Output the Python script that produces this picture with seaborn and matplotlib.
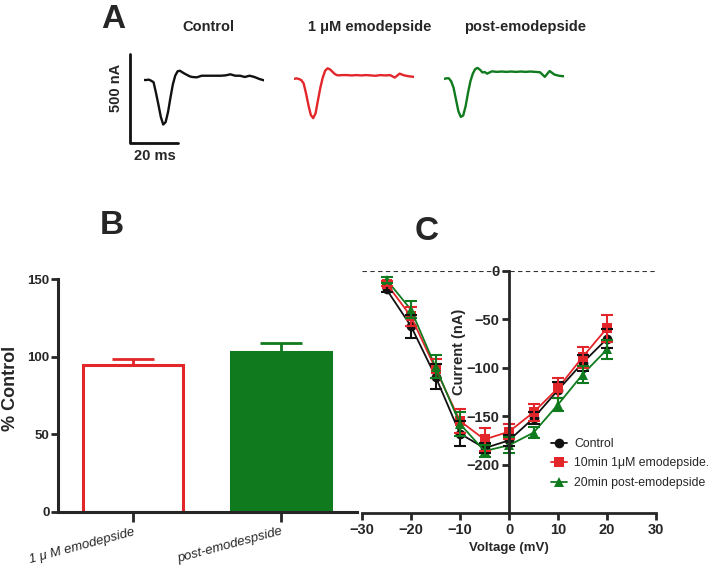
import numpy as np
import pandas as pd
import matplotlib
matplotlib.use("Agg")
import matplotlib.pyplot as plt
import seaborn as sns

# ---------------- data ----------------
# Panel A: example current traces (ms, nA relative to baseline)
trace_time = [0, 1, 2, 3, 4, 5, 6, 7, 8, 9, 10, 11, 12, 13, 14, 15, 16, 17, 18, 19, 20,
              22, 24, 26, 28, 30, 32, 34, 36, 38, 40, 42, 44, 46, 48, 50]
trace_control = [0, 0, 2, -4, -13, -73, -138, -207, -250, -237, -181, -101, -26, 24, 49, 52, 43, 35, 28, 21, 17,
                 15, 24, 24, 24, 24, 24, 26, 32, 24, 24, 17, 24, 17, 6, -2]
trace_emod = [0, 4, 0, -6, -24, -80, -146, -202, -220, -192, -118, -47, 9, 47, 60, 54, 41, 28, 21, 21, 22,
              22, 20, 22, 20, 22, 20, 18, 22, 20, 22, 8, 30, 20, 15, 12]
trace_post = [0, 4, 4, -13, -50, -116, -181, -213, -205, -153, -78, -13, 30, 56, 62, 52, 37, 39, 30, 37, 43,
              40, 42, 40, 42, 40, 42, 40, 42, 40, 38, 12, 45, 25, 18, 15]
trace_titles = ["Control", "1 μM emodepside", "post-emodepside"]

# Panel B
b_labels = ["1 μ M emodepside", "post-emodespside"]
b_values = [94.5, 102.8]
b_sem = [4.0, 6.3]

# Panel C
voltages = [-25, -20, -15, -10, -5, 0, 5, 10, 15, 20]
c_control = [-19, -57, -109, -168, -183, -175, -152, -123, -95, -70]
c_control_sem = [3, 12, 13, 13, 5, 6, 6, 8, 8, 10]
c_emod = [-13, -47, -101, -155, -174, -166, -146, -121, -89, -59]
c_emod_sem = [3, 10, 10, 12, 12, 8, 9, 10, 11, 14]
c_post = [-9, -40, -99, -158, -186, -180, -167, -138, -107, -81]
c_post_sem = [3, 9, 12, 12, 6, 8, 6, 7, 9, 10]
c_labels = ["Control", "10min 1μM emodepside.", "20min post-emodepside"]

BLACK = "#111111"
RED = "#e3262a"
GREEN = "#107a1e"

sns.set_style("ticks")
plt.rcParams["font.family"] = ["Liberation Sans", "DejaVu Sans"]

W, H = 709, 573
fig = plt.figure(figsize=(W / 100, H / 100), dpi=100)


def px_axes(l, t, r, b):
    return fig.add_axes([l / W, 1 - b / H, (r - l) / W, (b - t) / H])


# ---------------- Panel A ----------------
nA_px = 89 / 500.0
ms_px = 2.4
trace_sets = [(trace_control, BLACK, 144, 80), (trace_emod, RED, 294, 79), (trace_post, GREEN, 444, 79)]
a_axes = []
for vals, col, left, base in trace_sets:
    top = base - 200 * nA_px
    bot = base + 400 * nA_px
    ax = px_axes(left, top, left + 50 * ms_px, bot)
    sns.lineplot(x=trace_time, y=vals, color=col, lw=1.7, ax=ax)
    ax.set_xlim(0, 50)
    ax.set_ylim(-400, 200)
    ax.axis("off")
    a_axes.append(ax)

# scale bar (500 nA, 20 ms) in the control axes
axc = a_axes[0]
x0 = (130 - 144) / ms_px
y0 = -(143 - 80) / nA_px
axc.plot([x0, x0, x0 + 20], [y0 + 500, y0, y0], color=BLACK, lw=2, clip_on=False)
fig.text(116 / W, 1 - 88 / H, "500 nA", rotation=90, ha="center", va="center",
         fontsize=10.5, fontweight="bold")
fig.text(155 / W, 1 - 156 / H, "20 ms", ha="center", va="center", fontsize=10.5, fontweight="bold")

for txt, cx in zip(trace_titles, [208, 370, 525]):
    fig.text(cx / W, 1 - 27 / H, txt, ha="center", va="center", fontsize=10.5, fontweight="bold")

fig.text(113 / W, 1 - 20 / H, "A", ha="center", va="center", fontsize=24, fontweight="bold")
fig.text(112 / W, 1 - 226 / H, "B", ha="center", va="center", fontsize=24, fontweight="bold")
fig.text(427 / W, 1 - 232 / H, "C", ha="center", va="center", fontsize=24, fontweight="bold")

# ---------------- Panel B ----------------
axb = px_axes(58, 279, 357, 512)
dfb = pd.DataFrame({"cond": b_labels, "val": b_values})
sns.barplot(data=dfb, x="cond", y="val", hue="cond", palette=["white", GREEN],
            width=0.68, legend=False, ax=axb, errorbar=None, saturation=1)
for patch, ec in zip(axb.patches, [RED, GREEN]):
    patch.set_edgecolor(ec)
    patch.set_linewidth(2.2)
for i, (v, e, c) in enumerate(zip(b_values, b_sem, [RED, GREEN])):
    axb.errorbar([i], [v], yerr=[[0], [e]], fmt="none", ecolor=c, elinewidth=2,
                 capsize=15, capthick=2)
axb.set_xlim(-0.507, 1.514)
axb.set_ylim(0, 150)
axb.set_yticks([0, 50, 100, 150])
sns.despine(ax=axb)
for s in ["left", "bottom"]:
    axb.spines[s].set_linewidth(2.2)
axb.tick_params(axis="y", width=2, length=5, labelsize=9.5, pad=1)
axb.tick_params(axis="x", width=2, length=7, pad=3)
for lab in axb.get_yticklabels():
    lab.set_fontweight("bold")
axb.set_xticks([0, 1])
axb.set_xticklabels(b_labels, rotation=15, ha="right", rotation_mode="anchor",
                    fontsize=9.5, style="italic")
axb.set_xlabel("")
axb.set_ylabel("% Control", fontsize=13, fontweight="bold")
axb.yaxis.set_label_coords(-0.132, 0.532)

# ---------------- Panel C ----------------
axC = px_axes(362, 271, 656, 513)
dfc = pd.DataFrame({
    "Voltage": voltages * 3,
    "Current": c_control + c_emod + c_post,
    "Condition": [c_labels[0]] * len(voltages) + [c_labels[1]] * len(voltages) + [c_labels[2]] * len(voltages),
})
sns.lineplot(data=dfc, x="Voltage", y="Current", hue="Condition", style="Condition",
             palette=[BLACK, RED, GREEN], markers=["o", "s", "^"], dashes=False,
             markersize=7, markeredgewidth=0, lw=1.3, ax=axC, clip_on=False)
handles, labels = axC.get_legend_handles_labels()
for vals, sem, col in [(c_control, c_control_sem, BLACK), (c_emod, c_emod_sem, RED), (c_post, c_post_sem, GREEN)]:
    axC.errorbar(voltages, vals, yerr=sem, fmt="none", ecolor=col, elinewidth=1.5,
                 capsize=4, capthick=1.5, clip_on=False)
axC.axhline(0, color="#333333", lw=0.8, ls=(0, (4, 3)), zorder=0)
axC.set_xlim(-30, 30)
axC.set_ylim(-250, 0)
axC.set_xticks([-30, -20, -10, 0, 10, 20, 30])
axC.set_yticks([0, -50, -100, -150, -200])
axC.spines["top"].set_visible(False)
axC.spines["right"].set_visible(False)
axC.spines["left"].set_position(("data", 0))
for s in ["left", "bottom"]:
    axC.spines[s].set_linewidth(2.0)
axC.tick_params(axis="both", width=2, length=5, labelsize=10.5, pad=2)
for lab in axC.get_xticklabels() + axC.get_yticklabels():
    lab.set_fontweight("bold")
axC.set_xlabel("Voltage (mV)", fontsize=9.5, fontweight="bold", labelpad=4)
axC.set_ylabel("Current (nA)", fontsize=10.5, fontweight="bold")
axC.yaxis.set_label_coords(0.355, 0.665)
leg = axC.legend(handles, labels, loc="upper left", bbox_to_anchor=(545 / W, 1 - 432 / H),
                 bbox_transform=fig.transFigure, frameon=False, handlelength=1.3,
                 handletextpad=0.6, labelspacing=0.6, borderpad=0,
                 prop={"family": ["Liberation Sans"], "size": 8.8})

fig.savefig("out.png", dpi=100)
